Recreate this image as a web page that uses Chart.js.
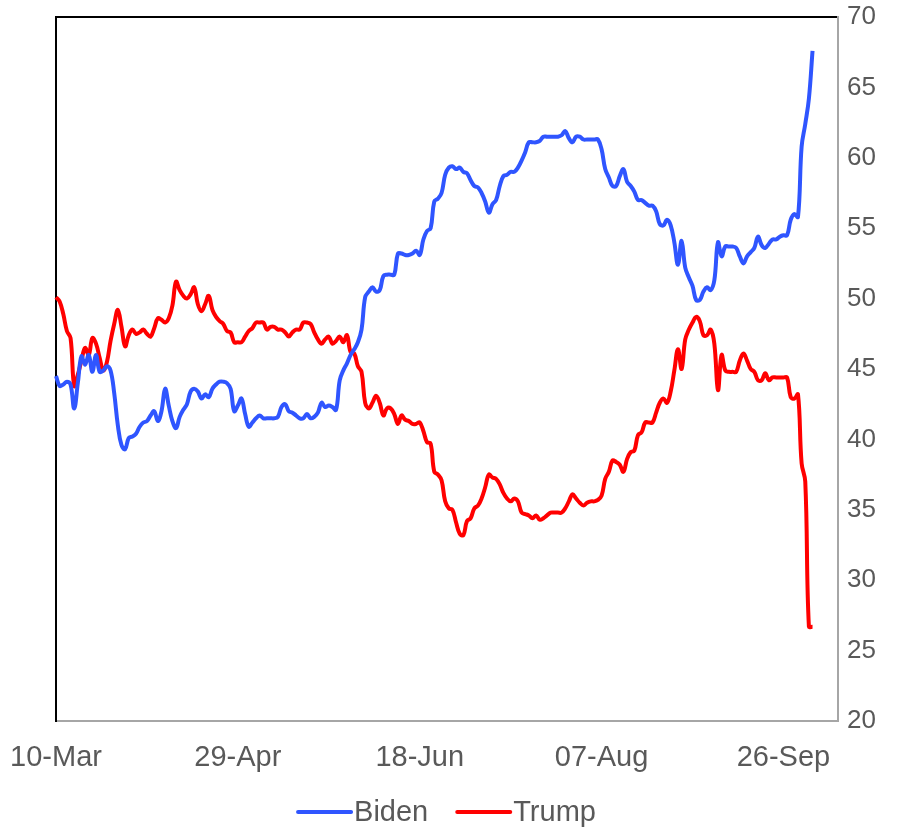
<!DOCTYPE html>
<html><head><meta charset="utf-8">
<script src="https://cdn.jsdelivr.net/npm/chart.js@4"></script>
<style>html,body{margin:0;padding:0;background:#fff}#wrap{width:897px;height:830px;position:relative}</style>
</head><body><div id="wrap"><canvas id="c"></canvas></div>
<script>
const dayCount = 216;
const monthNames = ['Jan','Feb','Mar','Apr','May','Jun','Jul','Aug','Sep','Oct','Nov','Dec'];
const tickLabels = ['10-Mar','29-Apr','18-Jun','07-Aug','26-Sep'];
const yTicks = [20,25,30,35,40,45,50,55,60,65,70];
const seriesNames = ['Biden','Trump'];

const biden = [
44.5,43.8,43.9,44.1,43.9,42.2,44.0,45.9,45.3,46.0,
44.8,46.0,44.8,44.9,45.2,44.9,43.3,41.0,39.6,39.3,
40.1,40.2,40.4,40.9,41.2,41.3,41.7,42.0,41.3,42.0,
43.6,42.4,41.3,40.8,41.6,42.1,42.5,43.4,43.6,43.4,
42.9,43.2,43.0,43.6,43.9,44.1,44.1,44.0,43.6,42.0,
42.4,42.9,41.8,40.9,41.2,41.5,41.7,41.5,41.5,41.5,
41.5,41.6,42.3,42.5,42.0,41.9,41.7,41.5,41.5,41.8,
41.5,41.6,41.9,42.6,42.3,42.4,42.3,42.1,44.2,44.9,
45.4,46.0,46.4,46.9,47.8,50.1,50.5,50.8,50.5,50.6,
51.6,51.7,51.7,51.7,53.2,53.2,53.1,53.1,53.2,53.4,
53.1,54.2,54.8,55.0,56.9,57.1,57.5,58.8,59.3,59.4,
59.2,59.3,59.0,58.9,58.4,58.0,57.9,57.5,56.9,56.1,
56.7,57.0,58.0,58.7,58.8,59.0,59.0,59.3,59.8,60.4,
61.1,61.1,61.1,61.2,61.5,61.5,61.5,61.5,61.5,61.6,
61.9,61.4,61.1,61.5,61.5,61.3,61.3,61.3,61.3,61.3,
60.6,59.2,58.6,58.0,58.0,58.7,59.2,58.3,58.0,57.6,
57.0,57.0,56.8,56.6,56.6,56.2,55.3,55.2,55.6,55.2,
54.0,52.4,54.1,52.2,51.5,50.9,49.9,49.9,50.5,50.8,
50.6,51.3,54.0,53.0,53.7,53.7,53.7,53.6,53.0,52.5,
53.0,53.3,53.6,54.4,53.8,53.6,53.9,54.2,54.2,54.4,
54.5,54.5,55.6,56.0,55.8,60.8,62.4,64.2,67.6
];

const trump = [
50.1,49.8,48.9,47.7,47.2,43.8,44.6,45.6,46.5,46.0,
47.2,46.8,45.8,44.9,45.5,47.0,48.2,49.2,48.0,46.6,
47.4,47.8,47.5,47.6,47.8,47.5,47.3,47.9,48.6,48.5,
48.3,48.6,49.5,51.2,50.6,50.2,50.0,50.3,50.8,49.6,
49.1,49.6,50.2,49.2,48.7,48.4,48.2,47.7,47.6,46.9,
46.9,46.9,47.3,47.7,47.9,48.3,48.3,48.3,47.8,48.0,
48.0,47.8,47.8,47.6,47.3,47.6,47.8,47.8,48.3,48.3,
48.2,47.6,47.1,46.8,47.1,47.3,46.8,47.0,47.3,46.9,
47.4,46.2,46.1,45.2,44.8,42.6,42.2,42.6,43.1,42.6,
41.7,42.2,42.2,41.8,41.1,41.7,41.4,41.3,41.1,41.1,
41.2,40.6,39.8,39.7,37.7,37.5,37.1,35.6,35.1,35.0,
34.1,33.3,33.2,34.2,34.4,35.1,35.3,35.8,36.6,37.5,
37.3,37.2,36.8,36.2,35.8,35.6,35.8,35.6,34.8,34.7,
34.6,34.4,34.6,34.3,34.4,34.6,34.8,34.8,34.8,34.8,
35.1,35.6,36.1,35.8,35.5,35.3,35.5,35.6,35.6,35.7,
36.0,37.2,37.7,38.5,38.4,38.2,37.7,38.6,39.1,39.2,
40.3,40.5,41.2,41.2,41.2,41.9,42.6,42.9,42.6,43.4,
44.9,46.4,45.0,47.1,47.8,48.3,48.7,48.4,47.4,47.4,
47.8,46.8,43.5,46.0,44.9,44.8,44.8,44.8,45.6,46.1,
45.6,45.0,44.8,44.2,44.2,44.7,44.2,44.4,44.4,44.4,
44.4,44.4,43.0,42.9,43.2,38.3,37.0,26.7,26.7
];

const categories = [];
for (let i = 0; i < dayCount; i++) {
  const d = new Date(2020, 2, 10 + i);
  categories.push(String(d.getDate()).padStart(2, '0') + '-' + monthNames[d.getMonth()]);
}

const FAMILY = 'Liberation Sans, Arial, sans-serif';
const XFONT = {family: FAMILY, size: 29};
const YFONT = {family: FAMILY, size: 26};
const TXT = '#595959';

// Compact bottom legend: line sample, tiny gap, label (like the original)
const compactLegend = {
  id: 'compactLegend',
  afterDraw(chart) {
    const ctx = chart.ctx;
    const sets = chart.data.datasets;
    const lineW = 55, gapText = 2, gapItem = 28;
    ctx.save();
    ctx.font = XFONT.size + 'px ' + FAMILY;
    let total = 0;
    const widths = sets.map(ds => ctx.measureText(ds.label).width);
    sets.forEach((ds, i) => { total += lineW + gapText + widths[i] + (i < sets.length - 1 ? gapItem : 0); });
    let x = (chart.width - total) / 2 - 2;
    const y = 812;
    sets.forEach((ds, i) => {
      ctx.strokeStyle = ds.borderColor;
      ctx.lineWidth = ds.borderWidth;
      ctx.lineCap = 'round';
      ctx.beginPath(); ctx.moveTo(x + 1, y); ctx.lineTo(x + lineW - 1, y); ctx.stroke();
      x += lineW + gapText;
      ctx.fillStyle = TXT; ctx.textBaseline = 'middle'; ctx.textAlign = 'left';
      ctx.fillText(ds.label, x, y + 1);
      x += widths[i] + gapItem;
    });
    ctx.restore();
  }
};

new Chart(document.getElementById('c'), {
  type: 'line',
  data: {
    labels: categories,
    datasets: [
      {label: seriesNames[0], data: biden, borderColor: '#2F55FF', backgroundColor: '#2F55FF', borderWidth: 4, pointRadius: 0, tension: 0.4, xAxisID: 'x', yAxisID: 'y'},
      {label: seriesNames[1], data: trump, borderColor: '#FF0000', backgroundColor: '#FF0000', borderWidth: 4, pointRadius: 0, tension: 0.4, xAxisID: 'x', yAxisID: 'y'}
    ]
  },
  plugins: [compactLegend],
  options: {
    responsive: true, maintainAspectRatio: false, animation: false,
    layout: {padding: {left: 56, top: 17, right: 0, bottom: 0}},
    plugins: {
      tooltip: {enabled: false},
      legend: {display: false}
    },
    scales: {
      x: {
        type: 'category', offset: false,
        grid: {display: false, drawTicks: false},
        border: {display: true, color: '#A6A6A6', width: 2},
        ticks: {autoSkip: false, maxRotation: 0, minRotation: 0, padding: 20, font: XFONT, color: TXT,
          callback: function(v, i) { const l = categories[i]; return tickLabels.includes(l) ? l : null; }},
        afterFit: function(s) { s.height = 109; s.paddingLeft = 0; s.paddingRight = 0; }
      },
      xTop: {
        type: 'category', position: 'top', offset: false,
        grid: {display: false, drawTicks: false},
        ticks: {display: false},
        border: {display: true, color: '#000000', width: 2},
        afterFit: function(s) { s.height = 0; }
      },
      y: {
        position: 'right', min: 20, max: 70,
        grid: {display: false, drawTicks: false},
        border: {display: true, color: '#A6A6A6', width: 2},
        ticks: {stepSize: 5, padding: 9, font: YFONT, color: TXT},
        afterBuildTicks: function(s) { s.ticks = yTicks.map(v => ({value: v})); },
        afterFit: function(s) { s.width = 59; s.paddingTop = 0; s.paddingBottom = 0; }
      },
      yLeft: {
        position: 'left', min: 20, max: 70,
        grid: {display: false, drawTicks: false},
        ticks: {display: false},
        border: {display: true, color: '#000000', width: 2},
        afterFit: function(s) { s.width = 0; }
      }
    }
  }
});
</script></body></html>
